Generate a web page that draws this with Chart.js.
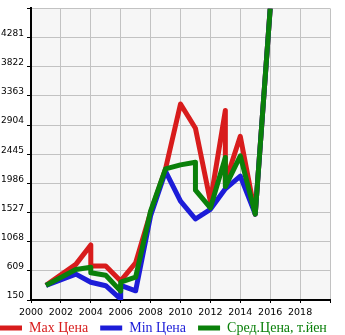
<!DOCTYPE html>
<html lang="ru">
<head>
<meta charset="UTF-8">
<title>Цены по годам</title>
<script src="https://cdn.jsdelivr.net/npm/chart.js"></script>
<style>
    body { margin: 0; background: #fff; overflow: hidden; }
    /* canvas sits 12px to the left so the legend row starts flush at x=0 */
    #wrap { position: relative; width: 357px; height: 335px; margin-left: -12px; }
</style>
</head>
<body>
<div id="wrap"><canvas id="grafico"></canvas></div>
<script>
// Max Цена
const maxYears  = [2001, 2003, 2004, 2004, 2005, 2006, 2007, 2008, 2009, 2010, 2011, 2012, 2013, 2013, 2014, 2015, 2016];
const maxValues = [380, 711, 1017, 686, 686, 450, 736, 1527, 2215, 3236, 2853, 1700, 3133, 2000, 2726, 1501, 4740];

// Min Цена
const minYears  = [2001, 2003, 2004, 2005, 2006, 2006, 2007, 2008, 2009, 2010, 2011, 2012, 2013, 2014, 2015, 2016];
const minValues = [380, 558, 430, 375, 165, 380, 295, 1476, 2175, 1706, 1425, 1578, 1900, 2100, 1501, 4740];

// Сред.Цена
const avgYears  = [2001, 2003, 2004, 2004, 2005, 2006, 2006, 2007, 2008, 2009, 2010, 2011, 2011, 2012, 2013, 2013, 2014, 2015, 2016];
const avgValues = [380, 630, 665, 580, 540, 290, 430, 510, 1550, 2215, 2277, 2318, 1880, 1600, 2394, 1936, 2420, 1501, 4740];

const seriesNames = ['Max Цена', 'Min Цена', 'Сред.Цена, т.йен'];
const seriesColors = ['#d81c1c', '#1c1cd8', '#0a800a'];

const yTicks = [150, 609, 1068, 1527, 1986, 2445, 2904, 3363, 3822, 4281];
const yTop = 4740;
const xTicks = [2000, 2002, 2004, 2006, 2008, 2010, 2012, 2014, 2016, 2018];
const xEnd = 2020;

function pairs(xs, ys) {
    return xs.map((x, i) => ({ x: x, y: ys[i] }));
}

// light grey plot background
const plotBg = {
    id: 'plotBg',
    beforeDraw(chart) {
        const a = chart.chartArea, ctx = chart.ctx;
        ctx.save();
        ctx.fillStyle = '#f6f6f6';
        ctx.fillRect(a.left, a.top, a.right - a.left, a.bottom - a.top);
        ctx.restore();
    }
};

// legend takes little room in the layout, then is moved to its row at the bottom
const legendRow = {
    id: 'legendRow',
    beforeInit(chart) {
        const lg = chart.legend;
        if (!lg) return;
        const fit = lg.fit.bind(lg);
        lg.fit = function () { fit(); this.height = 15; };
    },
    afterLayout(chart) {
        const lg = chart.legend;
        if (!lg) return;
        lg.top = 309;
        lg.bottom = 335;
        lg.height = 26;
    }
};

const datasets = [
    { label: seriesNames[0], data: pairs(maxYears, maxValues), borderColor: seriesColors[0], order: 3 },
    { label: seriesNames[1], data: pairs(minYears, minValues), borderColor: seriesColors[1], order: 2 },
    { label: seriesNames[2], data: pairs(avgYears, avgValues), borderColor: seriesColors[2], order: 1 }
].map(d => Object.assign(d, {
    backgroundColor: d.borderColor,
    borderWidth: 5,
    borderJoinStyle: 'round',
    pointRadius: 0,
    tension: 0,
    fill: false
}));

new Chart(document.getElementById('grafico'), {
    type: 'line',
    data: { datasets: datasets },
    plugins: [plotBg, legendRow],
    options: {
        responsive: true,
        maintainAspectRatio: false,
        animation: false,
        layout: { padding: 0 },
        plugins: {
            tooltip: { enabled: false },
            legend: {
                position: 'bottom',
                align: 'start',
                labels: {
                    usePointStyle: true,
                    pointStyle: 'line',
                    pointStyleWidth: 22,
                    padding: 12,
                    font: { family: 'Liberation Serif', size: 14 },
                    sort: (a, b) => a.datasetIndex - b.datasetIndex,
                    generateLabels(chart) {
                        const items = Chart.defaults.plugins.legend.labels.generateLabels(chart);
                        items.forEach(it => {
                            it.fontColor = seriesColors[it.datasetIndex];
                            it.strokeStyle = seriesColors[it.datasetIndex];
                            it.lineWidth = 5;
                            it.lineCap = 'butt';
                        });
                        return items;
                    }
                }
            }
        },
        scales: {
            x: {
                type: 'linear',
                min: 2000,
                max: xEnd,
                afterBuildTicks: s => { s.ticks = xTicks.concat([xEnd]).map(v => ({ value: v })); },
                afterFit: s => { s.height = 20; },
                ticks: {
                    color: '#000',
                    font: { family: 'DejaVu Sans', size: 9.5 },
                    padding: 4,
                    maxRotation: 0,
                    autoSkip: false,
                    callback: v => xTicks.includes(v) ? String(v) : ''
                },
                grid: { color: '#c2c2c2', tickColor: '#000', tickLength: 3, lineWidth: 1 },
                border: { color: '#000', width: 2 }
            },
            y: {
                type: 'linear',
                min: yTicks[0],
                max: yTop,
                afterBuildTicks: s => { s.ticks = yTicks.concat([yTop]).map(v => ({ value: v })); },
                afterFit: s => { s.width = 43; },
                ticks: {
                    color: '#000',
                    font: { family: 'DejaVu Sans', size: 9 },
                    padding: 3,
                    labelOffset: -4,
                    autoSkip: false,
                    callback: v => yTicks.includes(v) ? String(v) : ''
                },
                grid: { color: '#c2c2c2', tickColor: '#000', tickLength: 4, lineWidth: 1 },
                border: { color: '#000', width: 2 }
            },
            // empty strip on the right of the plot
            yRight: {
                type: 'linear',
                position: 'right',
                display: true,
                afterFit: s => { s.width = 15; },
                ticks: { display: false },
                grid: { display: false },
                border: { display: false }
            }
        }
    }
});
</script>
</body>
</html>
